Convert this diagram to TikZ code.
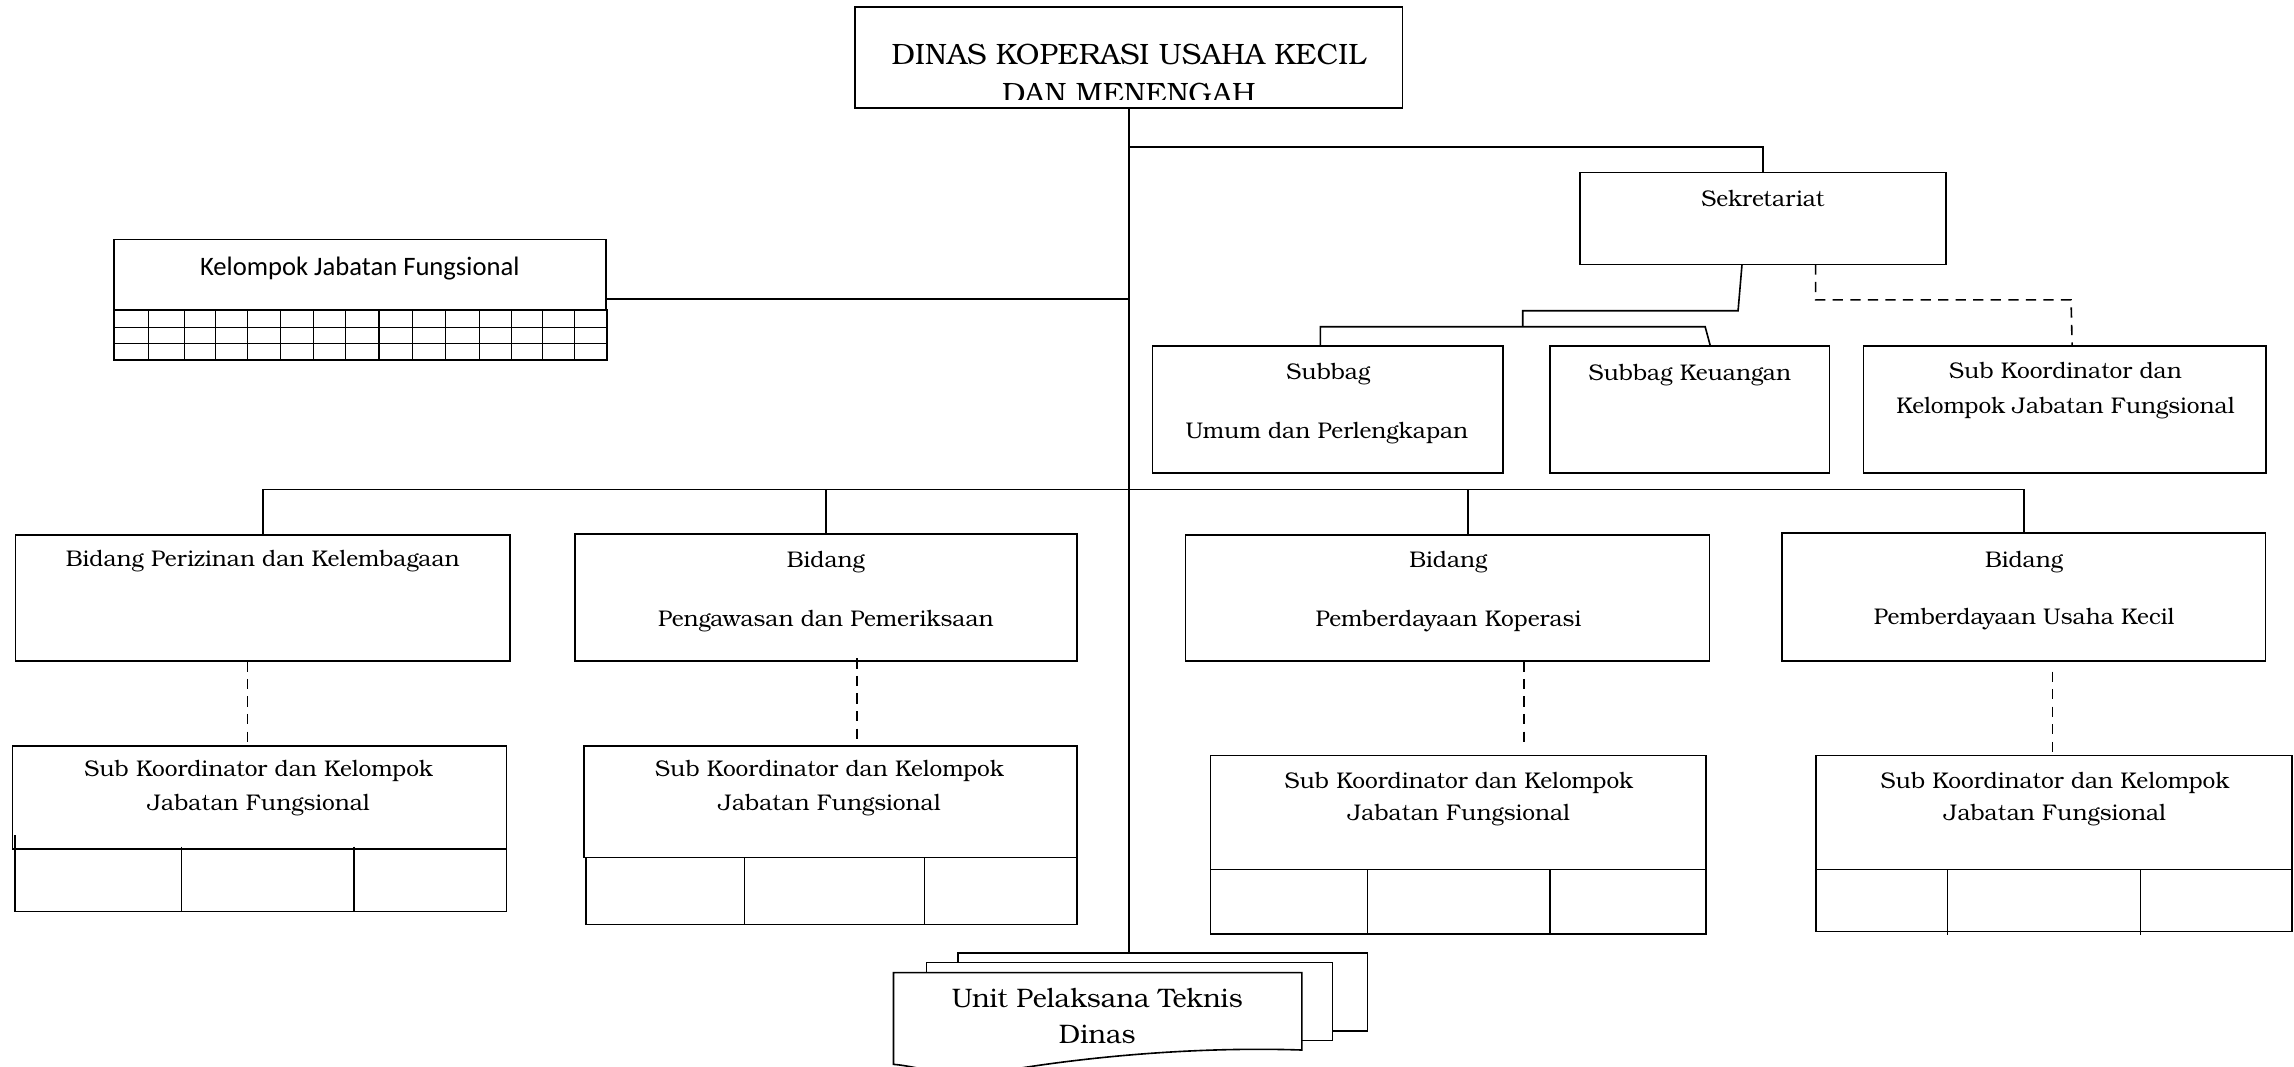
\documentclass[tikz,border=0pt]{standalone}
\usepackage{fontspec}
\newfontfamily\kjffont{Carlito}
\newfontfamily\bkfont{TeX Gyre Bonum}
\usetikzlibrary{calc}

\tikzset{
  box/.style={draw, line width=1.1pt, rectangle, inner sep=0pt, outer sep=0pt,
              anchor=north west, fill=white},
  cellline/.style={line width=0.8pt},
  link/.style={line width=1.1pt},
  dlink/.style={line width=1.1pt, dash pattern=on 7pt off 5pt},
  txt/.style={anchor=base, inner sep=0pt, font=\bkfont\fontsize{15.5}{18}\selectfont},
  ttl/.style={anchor=base, inner sep=0pt, font=\bkfont\fontsize{20.1}{23}\selectfont},
  upt/.style={anchor=base, inner sep=0pt, font=\bkfont\fontsize{18.3}{20}\selectfont},
  sans/.style={anchor=base, inner sep=0pt, font=\kjffont\fontsize{18.2}{20}\selectfont},
}

% box with top-left corner (#2,#3) and bottom-right corner (#4,#5)
\newcommand\orgbox[5]{\node[box, minimum width={#4-#2}, minimum height={#5-#3}] (#1) at (#2,#3) {};}

\begin{document}
\begin{tikzpicture}[x=1pt, y=-1pt]
\fill[white] (0,0) rectangle (1568,729);
\useasboundingbox (0,0) rectangle (1568,729);

% ---------- head of the office ----------
\orgbox{top}{584.6}{4.6}{958.7}{74}
\begin{scope}
  \clip (584.6,4.6) rectangle (958.7,68);
  \node[ttl] (ttl1) at (771.6,44.4) {DINAS KOPERASI USAHA KECIL};
  \node[ttl] (ttl2) at (771.6,70.6) {DAN MENENGAH};
\end{scope}

% ---------- functional group (left) ----------
\orgbox{kjf}{77.8}{163.6}{414.3}{211.9}
\node[sans] (kjftxt) at (245.9,188) {Kelompok Jabatan Fungsional};
\draw[line width=1pt] (77.8,211.9) rectangle (414.8,246);
\draw[cellline] (77.8,223.7) -- (414.8,223.7) (77.8,234.7) -- (414.8,234.7);
\foreach \cx in {101.3,126,147.2,169.1,191.5,214.3,236.2,259,282.1,304.5,328,349.6,370.8,392.7}
  \draw[cellline] (\cx,211.9) -- (\cx,246);

% ---------- secretariat ----------
\orgbox{sek}{1080}{117.8}{1330}{180.7}
\node[txt] (sektxt) at (1205,141) {Sekretariat};

\orgbox{sbu}{787.8}{236.5}{1027.2}{323.5}
\node[txt] (sbu1) at (908,259.7) {Subbag};
\node[txt] (sbu2) at (907,299.6) {Umum dan Perlengkapan};

\orgbox{sbk}{1059.5}{236.5}{1250.6}{323.5}
\node[txt] (sbk1) at (1155,260) {Subbag Keuangan};

\orgbox{skj}{1273.7}{236.5}{1549}{323.5}
\node[txt] (skj1) at (1411.8,258.6) {Sub Koordinator dan};
\node[txt] (skj2) at (1411.8,282.5) {Kelompok Jabatan Fungsional};

% ---------- fields ----------
\orgbox{b1}{10.5}{365.7}{348.7}{452}
\node[txt] (b1t) at (179.6,387.3) {Bidang Perizinan dan Kelembagaan};

\orgbox{b2}{393}{365}{736}{452}
\node[txt] (b2t1) at (564.5,388) {Bidang};
\node[txt] (b2t2) at (564.5,428) {Pengawasan dan Pemeriksaan};

\orgbox{b3}{810.4}{365.7}{1168.4}{452}
\node[txt] (b3t1) at (990,388) {Bidang};
\node[txt] (b3t2) at (990,428) {Pemberdayaan Koperasi};

\orgbox{b4}{1218}{364.5}{1548.6}{452}
\node[txt] (b4t1) at (1383.5,388) {Bidang};
\node[txt] (b4t2) at (1383.5,427) {Pemberdayaan Usaha Kecil};

% ---------- sub coordinators under each field ----------
\orgbox{s1}{8.6}{509.7}{346.3}{580.5}
\node[txt] (s1t1) at (176.8,531) {Sub Koordinator dan Kelompok};
\node[txt] (s1t2) at (176.8,553.7) {Jabatan Fungsional};
\draw[line width=1.1pt] (10.3,571) -- (10.3,623) -- (346.3,623) -- (346.3,580.5);
\draw[cellline] (124,578.7) -- (124,623) (242,578.7) -- (242,623);

\orgbox{s2}{399}{509.7}{736}{586}
\node[txt] (s2t1) at (567,531) {Sub Koordinator dan Kelompok};
\node[txt] (s2t2) at (567,553.7) {Jabatan Fungsional};
\draw[line width=1.1pt] (400.5,586) -- (400.5,632) -- (736,632) -- (736,586);
\draw[cellline] (509,586) -- (509,632) (631.7,586) -- (631.7,632);

\orgbox{s3}{827.4}{516.5}{1166}{594.2}
\node[txt] (s3t1) at (997.2,538.8) {Sub Koordinator dan Kelompok};
\node[txt] (s3t2) at (997.2,560.5) {Jabatan Fungsional};
\draw[line width=1.1pt] (827.4,594.2) -- (827.4,638.6) -- (1166,638.6) -- (1166,594.2);
\draw[cellline] (934.8,594.2) -- (934.8,638.6) (1059.5,594.2) -- (1059.5,638.6);

\orgbox{s4}{1241.3}{516.5}{1566.6}{594.2}
\node[txt] (s4t1) at (1404.6,538.8) {Sub Koordinator dan Kelompok};
\node[txt] (s4t2) at (1404.6,560.5) {Jabatan Fungsional};
\draw[line width=1.1pt] (1241.3,594.2) -- (1241.3,636.8) -- (1566.6,636.8) -- (1566.6,594.2);
\draw[cellline] (1331,594.2) -- (1331,639) (1463,594.2) -- (1463,639);

% ---------- technical units (stacked documents) ----------
\coordinate (ySek) at (0,100.3);
\coordinate (yK) at (0,204.4);
\coordinate (yB) at (0,334.5);

\node[box, minimum width={934.6-655}, minimum height={704.5-651.2}] (upt3) at (655,651.2) {};
\draw[link] (top.south) -- (top.south |- upt3.north);
\node[box, minimum width={910.8-633.3}, minimum height={711.3-658}] (upt2) at (633.3,658) {};
\draw[line width=1.1pt, fill=white]
  (610.7,727.5) -- (610.7,664.8) -- (889.8,664.8) -- (889.8,717.7)
  .. controls (810,715) and (730,724) .. (680,733)
  .. controls (650,738) and (630,729) .. (610.7,727.5) -- cycle;
\node[upt] (upt1) at (750,688.5) {Unit Pelaksana Teknis};
\node[upt] (upt1b) at (750,713) {Dinas};

% ---------- connectors ----------
\draw[link] (top.south |- ySek) -| (sek.north);
\draw[link] (kjf.north east |- yK) -- (top.south |- yK);

\coordinate (sb1) at (1188,212.4);
\coordinate (sb2) at (1040.8,223.3);
\coordinate (sb3) at (1165.5,223.3);
\draw[link] ([xshift=-14.3pt]sek.south) -- (sb1) -| (sb2);
\draw[link] ([xshift=-5pt]sbu.north) -- ([xshift=-5pt]sbu.north |- sb2) -- (sb3) -- ([xshift=14pt]sbk.north);

\coordinate (sd1) at (1415.6,205);
\draw[dlink] ([xshift=36pt]sek.south) |- (sd1) -- ([xshift=5pt]skj.north);

\draw[link] (b1.north) |- (b4.north |- yB) -- (b4.north);
\draw[link] (b2.north) -- (b2.north |- yB);
\draw[link] ([xshift=13.8pt]b3.north) -- ([xshift=13.8pt]b3.north |- yB);

\draw[dlink] ([xshift=-10.3pt]b1.south) -- ([xshift=-10.3pt]b1.south |- s1.north);
\draw[dlink] ([xshift=21.2pt,yshift=2pt]b2.south) -- ([xshift=21.2pt]b2.south |- s2.north);
\draw[dlink] ([xshift=52.3pt]b3.south) -- ([xshift=52.3pt,yshift=6.5pt]b3.south |- s3.north);
\draw[dlink] ([xshift=19.7pt,yshift=-7pt]b4.south) -- ([xshift=19.7pt]b4.south |- s4.north);
\end{tikzpicture}
\end{document}
